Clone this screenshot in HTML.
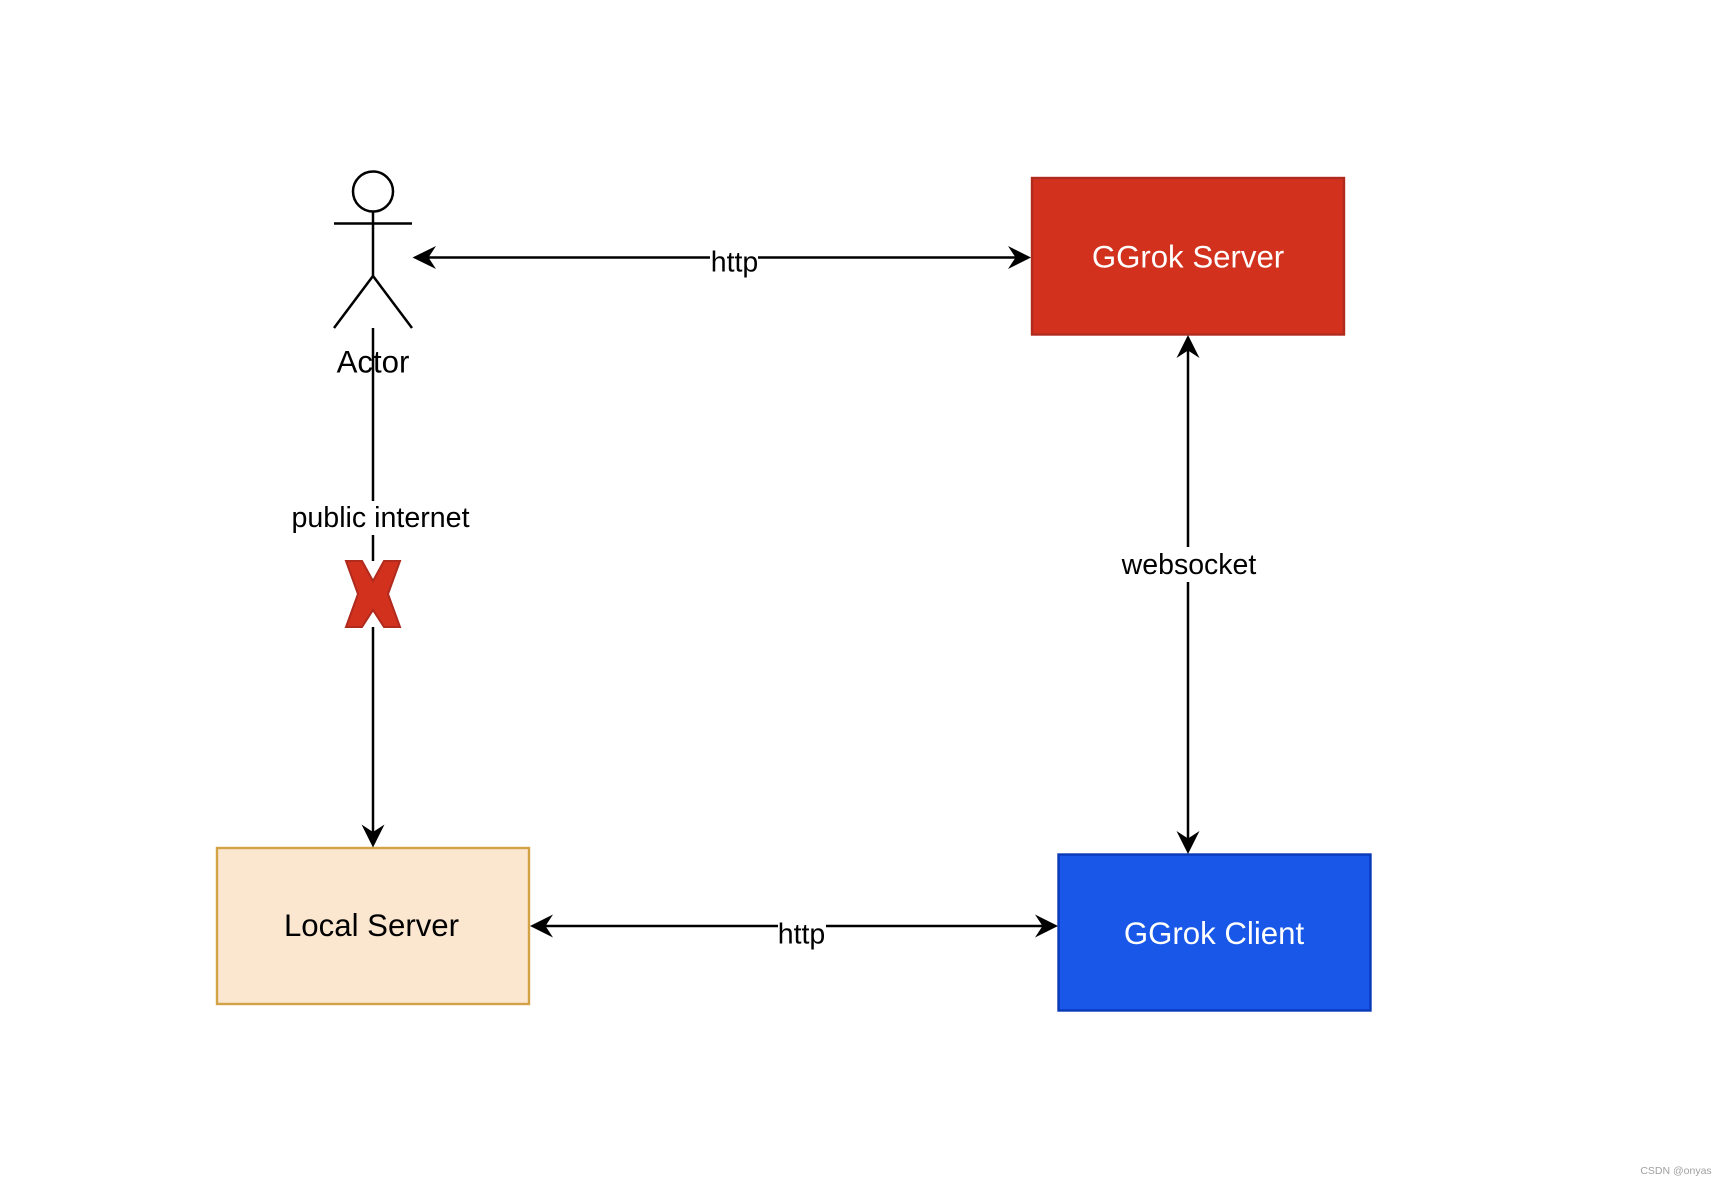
<!DOCTYPE html>
<html><head><meta charset="utf-8"><style>
html,body{margin:0;padding:0;background:#fff;width:1726px;height:1184px;overflow:hidden}
svg{display:block}
text{font-family:"Liberation Sans",Arial,sans-serif;text-anchor:middle}
</style></head><body>
<svg width="1726" height="1184" viewBox="0 0 1726 1184" xmlns="http://www.w3.org/2000/svg">
<rect width="1726" height="1184" fill="#fff"/>
<!-- Boxes -->
<rect x="1032" y="178" width="312" height="156.500" fill="#d2311d" stroke="#b02a1e" stroke-width="2.400"/>
<rect x="217" y="848" width="312" height="156" fill="#fbe6cf" stroke="#d3a246" stroke-width="2.400"/>
<rect x="1058.500" y="854.500" width="312" height="156" fill="#1857e8" stroke="#0b3ab8" stroke-width="2.400"/>
<!-- Actor -->
<g fill="none" stroke="#000" stroke-width="2.500">
<circle cx="373" cy="191.500" r="20"/>
<path d="M373 211.500V276M334 223.500H412M334 328L373 276L412 328"/>
</g>
<!-- Connectors -->
<g fill="none" stroke="#000" stroke-width="2.500">
<path d="M425 257.500H710M758 257.500H1018"/>
<path d="M1188 348V547M1188 582V842"/>
<path d="M373 328V501M373 535V561M373 627V835"/>
<path d="M543 926H778M826 926H1046"/>
</g>
<!-- Arrowheads -->
<g fill="#000">
<path d="M412.500 257.500L436 246L428.500 257.500L436 269Z"/>
<path d="M1031 257.500L1008 246L1015.500 257.500L1008 269Z"/>
<path d="M1188 335L1199.500 358L1188 350.500L1176.500 358Z"/>
<path d="M1188 854L1176.500 831L1188 838.500L1199.500 831Z"/>
<path d="M373 847.500L361.500 824.500L373 832L384.500 824.500Z"/>
<path d="M530 926L553 914.500L545.500 926L553 937.500Z"/>
<path d="M1058 926L1035 914.500L1042.500 926L1035 937.500Z"/>
</g>
<!-- X mark -->
<path d="M346 561H362L373 581L384 561H400L388 594L400 627H384L373 610L362 627H346L358 594Z" fill="#d2311d" stroke="#b02a1e" stroke-width="2"/>
<!-- Labels -->
<g fill="#000">
<text x="373" y="372.500" font-size="31.200">Actor</text>
<text x="734.500" y="271.500" font-size="28.500">http</text>
<text x="801.500" y="943.500" font-size="28.500">http</text>
<text x="380.500" y="527" font-size="28.600">public internet</text>
<text x="1189" y="574" font-size="28.500">websocket</text>
<text x="371.500" y="936" font-size="31.200">Local Server</text>
</g>
<g font-size="31.200" fill="#fff">
<text x="1188" y="267.500">GGrok Server</text>
<text x="1214" y="944">GGrok Client</text>
</g>
<text x="1676" y="1174" font-size="10.500" fill="#a0a0a0">CSDN @onyas</text>
</svg>
</body></html>
